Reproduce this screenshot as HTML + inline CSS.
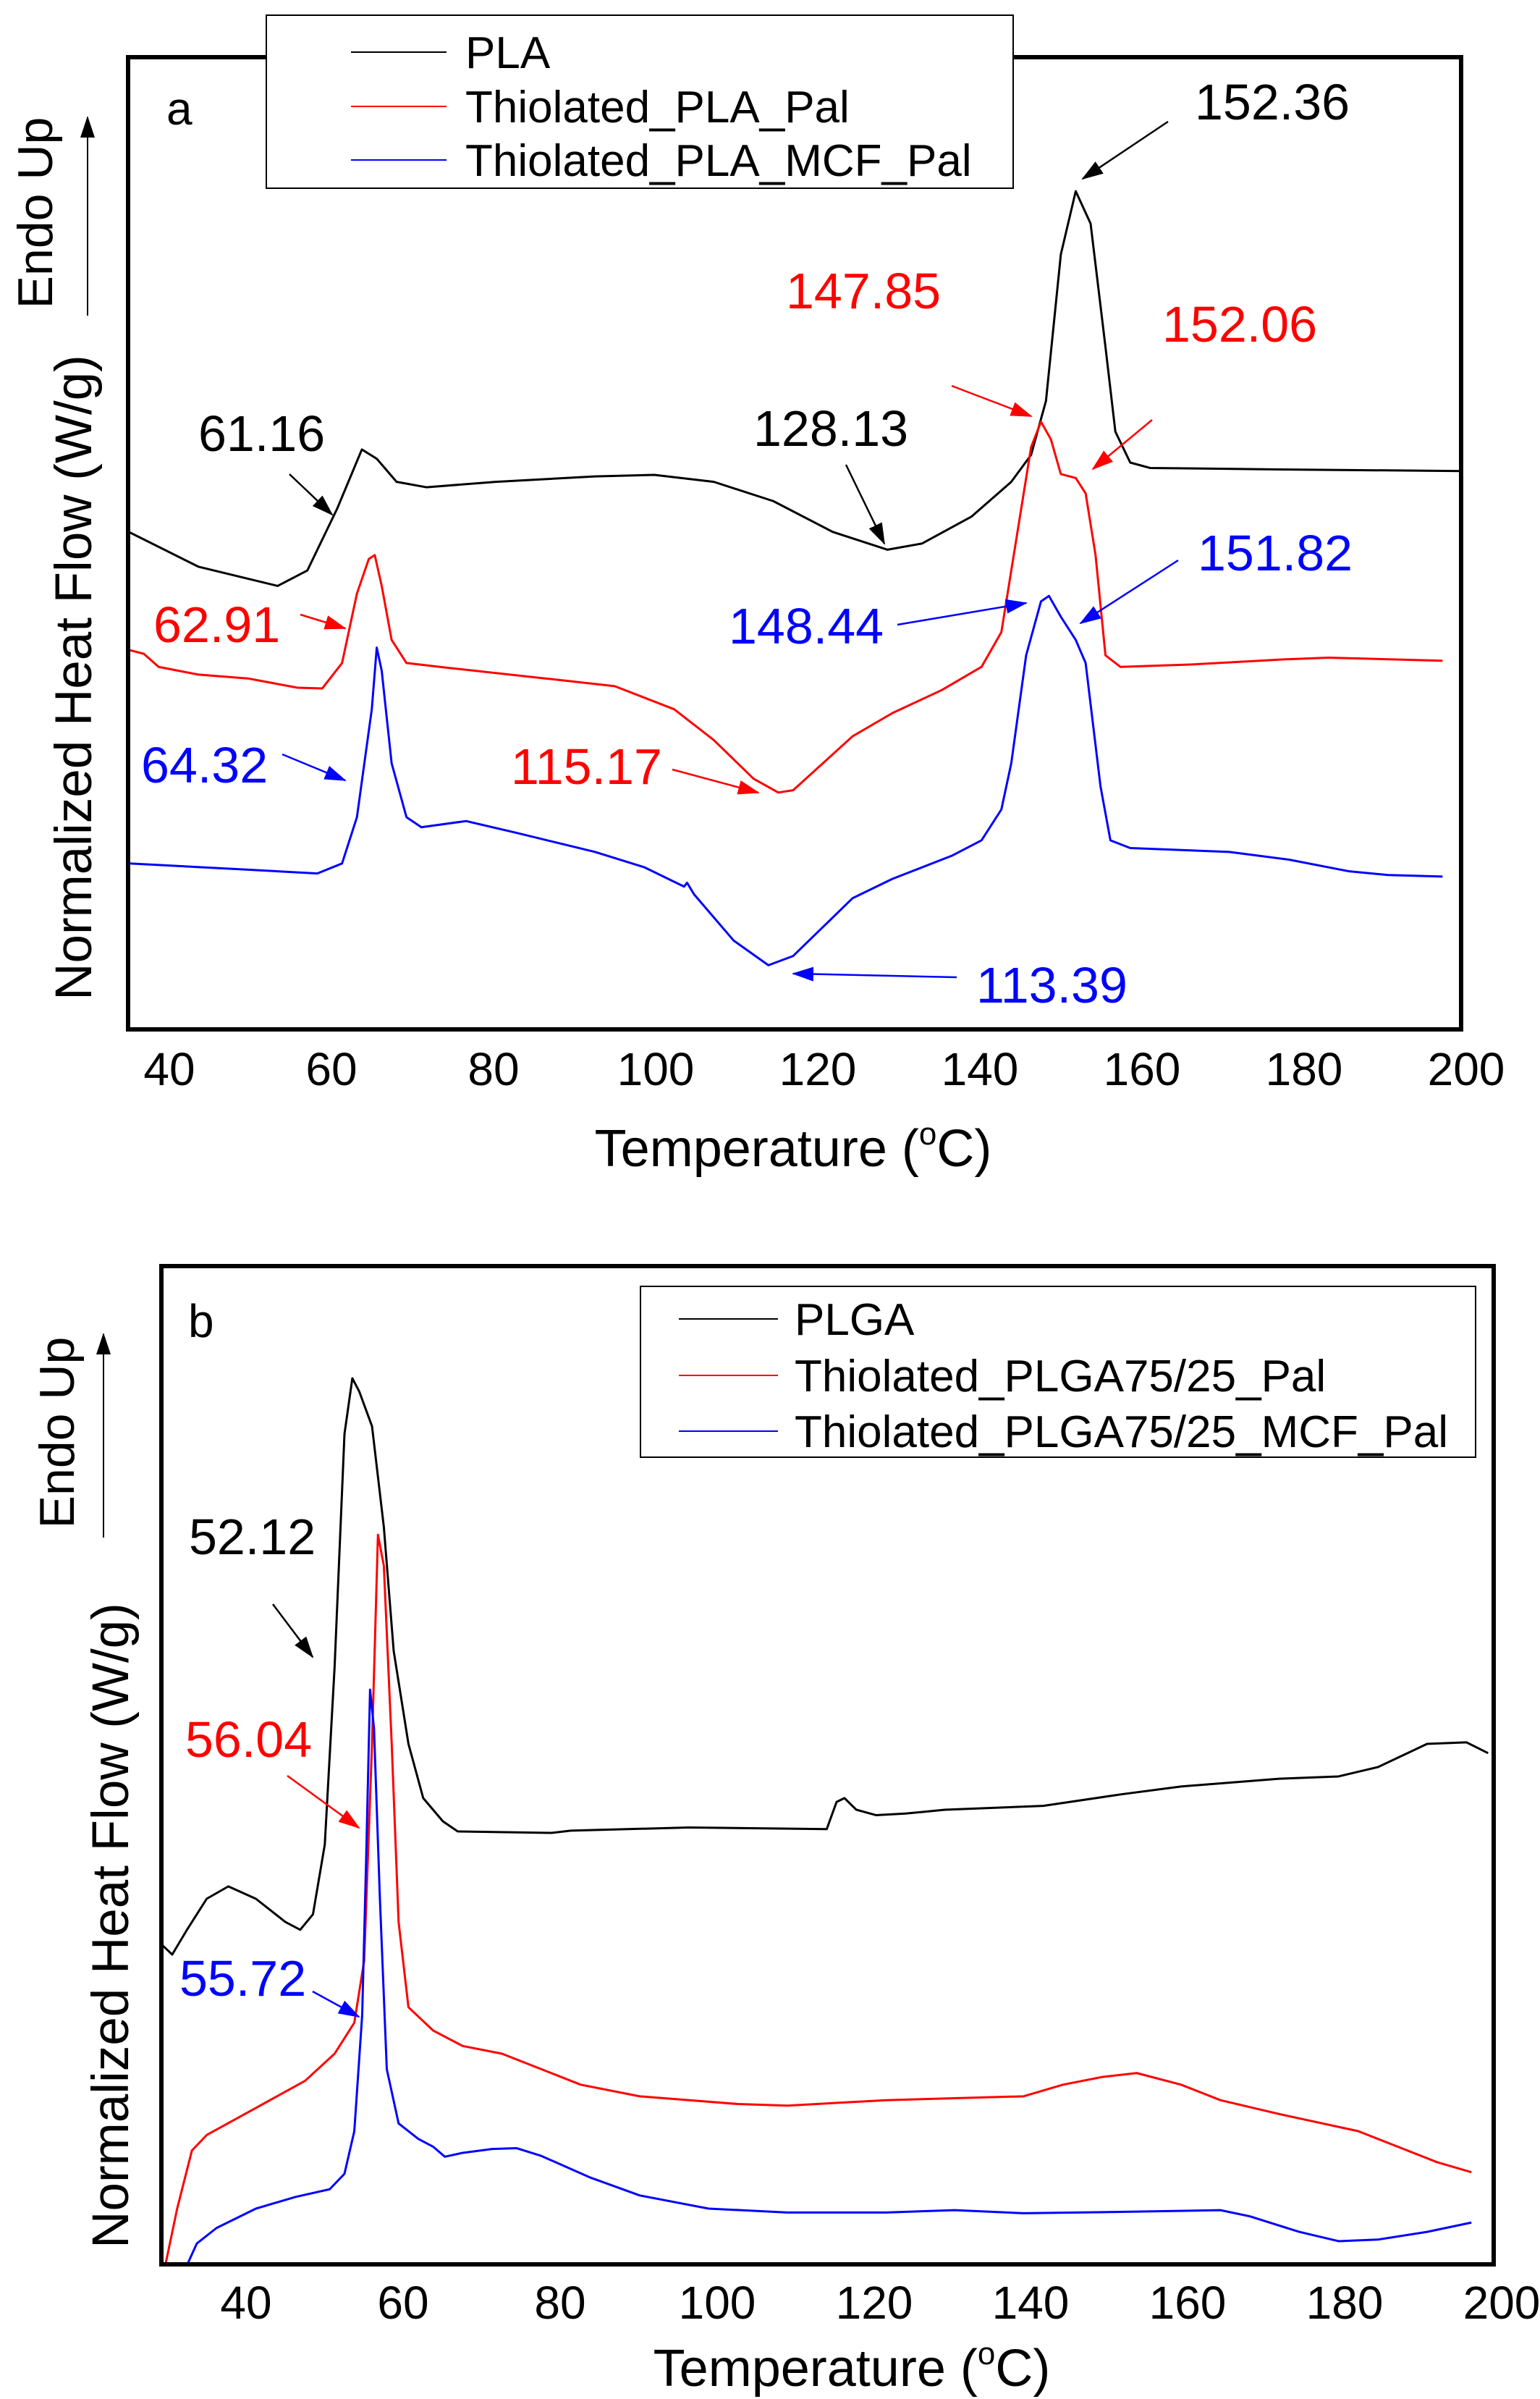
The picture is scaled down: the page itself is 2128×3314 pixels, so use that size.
<!DOCTYPE html>
<html><head><meta charset="utf-8"><style>
html,body{margin:0;padding:0;background:#fff}
svg{display:block}
text{font-family:"Liberation Sans",Arial,sans-serif}
</style></head><body>
<svg width="2128" height="3314" viewBox="0 0 2128 3314" xmlns="http://www.w3.org/2000/svg">
<defs>
<marker id="ak" markerUnits="userSpaceOnUse" markerWidth="30" markerHeight="24" refX="28" refY="12" orient="auto"><path d="M0,2 L30,12 L0,22 Z" fill="#000"/></marker>
<marker id="ar" markerUnits="userSpaceOnUse" markerWidth="30" markerHeight="24" refX="28" refY="12" orient="auto"><path d="M0,2 L30,12 L0,22 Z" fill="#f00"/></marker>
<marker id="ab" markerUnits="userSpaceOnUse" markerWidth="30" markerHeight="24" refX="28" refY="12" orient="auto"><path d="M0,2 L30,12 L0,22 Z" fill="#00f"/></marker>
</defs>

<!-- ===== TOP PLOT ===== -->
<g fill="none" stroke-width="3" stroke-linejoin="round">
<g transform="scale(1.37,1.065)">
<polyline vector-effect="non-scaling-stroke" stroke="#000" points="130,690 200,735 280,760 310,740 340,660 365,583 380,595 400,625 430,632 500,625 600,618 660,616 720,625 780,650 840,690 895,713 930,705 980,670 1020,625 1040,590 1055,520 1070,330 1085,248 1100,290 1115,450 1125,560 1140,600 1160,607 1300,609 1475,611"/>
<polyline vector-effect="non-scaling-stroke" stroke="#f00" points="130,843 145,848 160,865 200,875 250,880 300,892 325,893 345,860 360,770 372,725 378,720 385,760 395,830 410,860 450,866 550,880 620,890 680,920 720,960 760,1010 785,1028 800,1025 830,990 860,955 900,925 950,895 990,865 1010,820 1025,700 1040,580 1050,547 1060,570 1070,615 1085,620 1095,640 1105,720 1115,850 1130,865 1200,862 1300,855 1340,853 1455,857"/>
<polyline vector-effect="non-scaling-stroke" stroke="#00f" points="130,1120 250,1128 320,1133 345,1120 360,1060 375,920 380,840 385,870 395,990 410,1060 425,1073 470,1065 520,1080 600,1105 650,1125 690,1150 693,1145 700,1160 740,1220 775,1252 800,1240 860,1165 900,1140 960,1110 990,1090 1010,1050 1020,990 1035,850 1050,780 1058,773 1070,800 1085,830 1095,860 1110,1020 1120,1090 1140,1100 1240,1105 1300,1115 1360,1130 1400,1135 1455,1137"/>
</g>
</g>
<rect x="177" y="79" width="1842" height="1343" fill="none" stroke="#000" stroke-width="6"/>
<rect x="368" y="21" width="1032" height="239" fill="#fff" stroke="#000" stroke-width="2"/>
<line x1="485" y1="72" x2="617" y2="72" stroke="#000" stroke-width="2"/>
<line x1="485" y1="147" x2="617" y2="147" stroke="#f00" stroke-width="2"/>
<line x1="485" y1="221" x2="617" y2="221" stroke="#00f" stroke-width="2"/>
<g font-size="62" fill="#000">
<text x="643" y="94">PLA</text>
<text x="643" y="169">Thiolated_PLA_Pal</text>
<text x="643" y="243">Thiolated_PLA_MCF_Pal</text>
</g>
<text x="230" y="172" font-size="64">a</text>
<g font-size="64" text-anchor="middle">
<text x="234" y="1499">40</text><text x="458" y="1499">60</text><text x="682" y="1499">80</text><text x="906" y="1499">100</text><text x="1130" y="1499">120</text><text x="1354" y="1499">140</text><text x="1578" y="1499">160</text><text x="1802" y="1499">180</text><text x="2026" y="1499">200</text>
</g>
<text x="1096" y="1611" font-size="72" text-anchor="middle">Temperature (<tspan font-size="44" dy="-30">o</tspan><tspan dy="30">C)</tspan></text>
<text transform="translate(126,936) rotate(-90)" font-size="71" text-anchor="middle">Normalized Heat Flow (W/g)</text>
<text transform="translate(72,294) rotate(-90)" font-size="68" text-anchor="middle">Endo Up</text>
<line x1="121" y1="436" x2="121" y2="162" stroke="#000" stroke-width="2" marker-end="url(#ak)"/>

<g font-size="70">
<text x="274" y="623" fill="#000">61.16</text>
<text x="1041" y="616" fill="#000">128.13</text>
<text x="1651" y="165" fill="#000">152.36</text>
<text x="1086" y="426" fill="#f00">147.85</text>
<text x="1606" y="472" fill="#f00">152.06</text>
<text x="212" y="887" fill="#f00">62.91</text>
<text x="1007" y="889" fill="#00f">148.44</text>
<text x="1655" y="788" fill="#00f">151.82</text>
<text x="195" y="1081" fill="#00f">64.32</text>
<text x="706" y="1083" fill="#f00">115.17</text>
<text x="1349" y="1385" fill="#00f">113.39</text>
</g>
<g stroke-width="2.5">
<line x1="400" y1="655" x2="459" y2="711" stroke="#000" marker-end="url(#ak)"/>
<line x1="1169" y1="642" x2="1222" y2="751" stroke="#000" marker-end="url(#ak)"/>
<line x1="1614" y1="168" x2="1496" y2="247" stroke="#000" marker-end="url(#ak)"/>
<line x1="1315" y1="533" x2="1425" y2="575" stroke="#f00" marker-end="url(#ar)"/>
<line x1="1592" y1="580" x2="1510" y2="648" stroke="#f00" marker-end="url(#ar)"/>
<line x1="415" y1="849" x2="477" y2="868" stroke="#f00" marker-end="url(#ar)"/>
<line x1="1240" y1="863" x2="1418" y2="833" stroke="#00f" marker-end="url(#ab)"/>
<line x1="1628" y1="774" x2="1493" y2="861" stroke="#00f" marker-end="url(#ab)"/>
<line x1="390" y1="1042" x2="477" y2="1078" stroke="#00f" marker-end="url(#ab)"/>
<line x1="929" y1="1063" x2="1048" y2="1095" stroke="#f00" marker-end="url(#ar)"/>
<line x1="1322" y1="1350" x2="1096" y2="1345" stroke="#00f" marker-end="url(#ab)"/>
</g>

<!-- ===== BOTTOM PLOT ===== -->
<g fill="none" stroke-width="3" stroke-linejoin="round">
<g transform="translate(0,1660) scale(1.36,1.07)">
<polyline vector-effect="non-scaling-stroke" stroke="#000" points="165,960 175,972 190,940 210,900 232,884 260,900 290,930 305,940 318,920 330,830 340,600 350,300 358,228 365,245 378,290 390,420 400,580 415,700 430,770 450,800 465,813 560,815 580,812 700,808 840,810 850,775 858,770 870,785 890,792 920,790 960,785 1060,780 1140,765 1200,755 1300,745 1360,742 1400,730 1430,712 1450,700 1490,698 1512,712"/>
<polyline vector-effect="non-scaling-stroke" stroke="#f00" points="168,1373 180,1300 195,1225 210,1205 260,1170 310,1135 340,1100 360,1060 370,980 378,700 384,430 390,470 398,700 405,930 415,1040 440,1070 470,1090 510,1100 550,1120 590,1140 650,1155 750,1165 800,1167 900,1160 1040,1155 1080,1140 1120,1130 1155,1125 1200,1140 1240,1160 1300,1178 1380,1200 1420,1220 1460,1240 1495,1253"/>
<polyline vector-effect="non-scaling-stroke" stroke="#00f" points="190,1373 200,1345 220,1325 260,1300 300,1285 335,1275 350,1255 360,1200 368,1050 372,850 376,630 380,680 386,900 393,1120 405,1190 425,1210 440,1220 452,1233 470,1228 500,1223 525,1222 550,1232 600,1260 650,1283 720,1300 800,1305 900,1305 970,1302 1040,1306 1150,1304 1240,1302 1270,1310 1320,1330 1360,1342 1400,1340 1450,1330 1495,1318"/>
</g>
</g>
<rect x="223" y="1749" width="1841" height="1379" fill="none" stroke="#000" stroke-width="6"/>
<rect x="885" y="1777" width="1154" height="236" fill="#fff" stroke="#000" stroke-width="2"/>
<line x1="938" y1="1822" x2="1075" y2="1822" stroke="#000" stroke-width="2"/>
<line x1="938" y1="1900" x2="1075" y2="1900" stroke="#f00" stroke-width="2"/>
<line x1="938" y1="1977" x2="1075" y2="1977" stroke="#00f" stroke-width="2"/>
<g font-size="62" fill="#000">
<text x="1098" y="1844">PLGA</text>
<text x="1098" y="1922">Thiolated_PLGA75/25_Pal</text>
<text x="1098" y="1999">Thiolated_PLGA75/25_MCF_Pal</text>
</g>
<text x="260" y="1847" font-size="64">b</text>
<g font-size="64" text-anchor="middle">
<text x="340" y="3203">40</text><text x="557" y="3203">60</text><text x="774" y="3203">80</text><text x="991" y="3203">100</text><text x="1208" y="3203">120</text><text x="1424" y="3203">140</text><text x="1641" y="3203">160</text><text x="1858" y="3203">180</text><text x="2075" y="3203">200</text>
</g>
<text x="1177" y="3296" font-size="72" text-anchor="middle">Temperature (<tspan font-size="44" dy="-30">o</tspan><tspan dy="30">C)</tspan></text>
<text transform="translate(177,2660) rotate(-90)" font-size="71" text-anchor="middle">Normalized Heat Flow (W/g)</text>
<text transform="translate(102,1979) rotate(-90)" font-size="68" text-anchor="middle">Endo Up</text>
<line x1="143" y1="2124" x2="143" y2="1843" stroke="#000" stroke-width="2" marker-end="url(#ak)"/>
<g font-size="70">
<text x="261" y="2147" fill="#000">52.12</text>
<text x="256" y="2427" fill="#f00">56.04</text>
<text x="248" y="2757" fill="#00f">55.72</text>
</g>
<g stroke-width="2.5">
<line x1="377" y1="2216" x2="432" y2="2289" stroke="#000" marker-end="url(#ak)"/>
<line x1="397" y1="2453" x2="496" y2="2525" stroke="#f00" marker-end="url(#ar)"/>
<line x1="432" y1="2751" x2="496" y2="2786" stroke="#00f" marker-end="url(#ab)"/>
</g>
</svg>
</body></html>
